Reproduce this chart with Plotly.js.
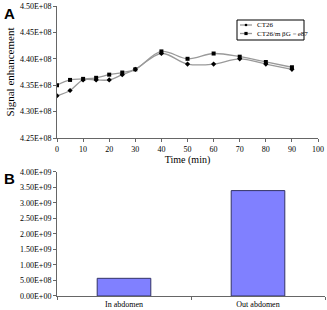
<!DOCTYPE html>
<html><head><meta charset="utf-8">
<script src="https://cdn.plot.ly/plotly-3.0.1.min.js"></script>
<style>html,body{margin:0;padding:0;background:#fff}#c{width:327px;height:310px}</style>
</head><body><div id="c"></div>
<script>
const timeMin = [0,5,10,15,20,25,30,40,50,60,70,80,90];
const ct26 = [4.33e8,4.34e8,4.36e8,4.36e8,4.36e8,4.37e8,4.38e8,4.41e8,4.39e8,4.39e8,4.40e8,4.39e8,4.38e8];
const ct26mbg = [4.35e8,4.36e8,4.362e8,4.364e8,4.37e8,4.374e8,4.38e8,4.414e8,4.40e8,4.41e8,4.404e8,4.394e8,4.384e8];
const seriesNames = ['CT26','CT26/m βG－e87'];
const yTicksA = [4.25e8,4.30e8,4.35e8,4.40e8,4.45e8,4.50e8];
const yTickTextA = ['4.25E+08','4.30E+08','4.35E+08','4.40E+08','4.45E+08','4.50E+08'];
const barCats = ['In abdomen','Out abdomen'];
const barVals = [5.7e8,3.4e9];
const yTicksB = [0,5e8,1e9,1.5e9,2e9,2.5e9,3e9,3.5e9,4e9];
const yTickTextB = ['0.00E+00','5.00E+08','1.00E+09','1.50E+09','2.00E+09','2.50E+09','3.00E+09','3.50E+09','4.00E+09'];

const serif = 'Liberation Serif, Times New Roman, serif';
const tickFont = {family: serif, size: 8, color: '#000'};
const lineGray = '#9a9a9a';
const axGray = '#666';

const data = [
  {x: timeMin, y: ct26, name: seriesNames[0], type: 'scatter', mode: 'lines+markers',
   line: {shape: 'spline', color: lineGray, width: 1.3},
   marker: {symbol: 'diamond', size: 4, color: '#000'}, xaxis: 'x', yaxis: 'y'},
  {x: timeMin, y: ct26mbg, name: seriesNames[1], type: 'scatter', mode: 'lines+markers',
   line: {shape: 'spline', color: lineGray, width: 1.3},
   marker: {symbol: 'square', size: 4, color: '#000'}, xaxis: 'x', yaxis: 'y'},
  {x: barCats, y: barVals, type: 'bar',
   marker: {color: '#8080ff', line: {color: '#333366', width: 1}}, xaxis: 'x2', yaxis: 'y2'}
];

// manual compact legend (paper coords)
const px = v => (v - 57) / 268;
const py = v => (296 - v) / 290;
const legRows = [25, 33.5];
const shapes = [
  {type: 'rect', xref: 'paper', yref: 'paper', x0: px(237), x1: px(304), y0: py(20), y1: py(40),
   line: {color: '#000', width: 1}, fillcolor: '#fff', layer: 'above'}
];
const annotations = [
  {text: '<b>A</b>', xref: 'paper', yref: 'paper', x: -0.205, y: 1.01, xanchor: 'left', yanchor: 'top',
   showarrow: false, font: {family: 'Liberation Sans, Arial, sans-serif', size: 15, color: '#000'}},
  {text: '<b>B</b>', xref: 'paper', yref: 'paper', x: -0.205, y: 0.44, xanchor: 'left', yanchor: 'top',
   showarrow: false, font: {family: 'Liberation Sans, Arial, sans-serif', size: 15, color: '#000'}}
];
legRows.forEach((r, i) => {
  shapes.push({type: 'line', xref: 'paper', yref: 'paper', x0: px(240), x1: px(252), y0: py(r), y1: py(r),
    line: {color: lineGray, width: 1.3}, layer: 'above'});
  const s = i === 0 ? 1.3 : 1.6;
  shapes.push({type: i === 0 ? 'circle' : 'rect', xref: 'paper', yref: 'paper',
    x0: px(246 - s), x1: px(246 + s), y0: py(r - s), y1: py(r + s),
    fillcolor: '#000', line: {color: '#000', width: 0}, layer: 'above'});
  annotations.push({text: seriesNames[i], xref: 'paper', yref: 'paper', x: px(255), y: py(r),
    xanchor: 'left', yanchor: 'middle', showarrow: false,
    font: {family: serif, size: 7, color: '#000'}});
});

const layout = {
  width: 327, height: 310,
  margin: {l: 57, r: 2, t: 6, b: 14},
  paper_bgcolor: '#fff', plot_bgcolor: '#fff',
  showlegend: false,
  bargap: 0.6,
  xaxis: {domain: [0, 0.974], range: [0, 100], tickvals: [0,10,20,30,40,50,60,70,80,90,100],
    showgrid: false, zeroline: false, showline: true, linecolor: axGray, linewidth: 1,
    ticks: 'outside', ticklen: 3, tickcolor: axGray, tickfont: tickFont, anchor: 'y',
    title: {text: 'Time (min)', font: {family: serif, size: 10, color: '#000'}, standoff: 3}},
  yaxis: {domain: [0.5448, 1], range: [4.25e8, 4.50e8], tickvals: yTicksA, ticktext: yTickTextA,
    showgrid: false, zeroline: false, showline: true, linecolor: axGray, linewidth: 1,
    ticks: 'outside', ticklen: 3, tickcolor: axGray, tickfont: tickFont, anchor: 'x',
    title: {text: 'Signal enhancement', font: {family: serif, size: 11, color: '#000'}, standoff: 3}},
  xaxis2: {domain: [0, 1], showgrid: false, zeroline: false, showline: true, linecolor: axGray,
    linewidth: 1, ticks: 'outside', ticklen: 3, tickcolor: axGray, tickson: 'boundaries',
    tickfont: tickFont, anchor: 'y2'},
  yaxis2: {domain: [0, 0.4276], range: [0, 4e9], tickvals: yTicksB, ticktext: yTickTextB,
    showgrid: false, zeroline: false, showline: true, linecolor: axGray, linewidth: 1,
    ticks: 'outside', ticklen: 3, tickcolor: axGray, tickfont: tickFont, anchor: 'x2'},
  shapes: shapes,
  annotations: annotations
};

Plotly.newPlot('c', data, layout, {displayModeBar: false, staticPlot: true});
</script></body></html>
